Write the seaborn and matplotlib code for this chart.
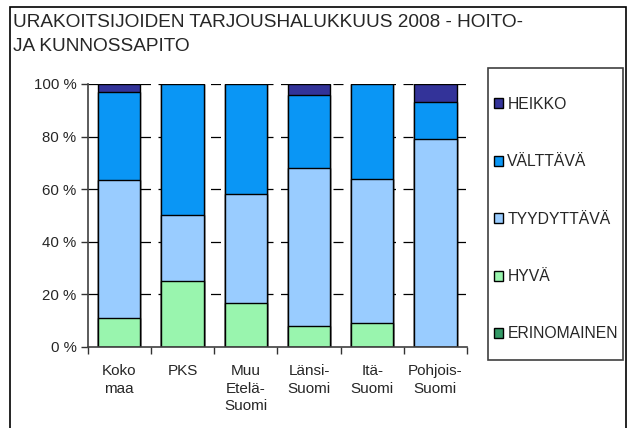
import numpy as np
import pandas as pd
import matplotlib
matplotlib.use("Agg")
import matplotlib.pyplot as plt
import seaborn as sns
from matplotlib.patches import Rectangle, Patch

sns.set_theme(style="white")
plt.rcParams['font.family'] = ['Liberation Sans', 'DejaVu Sans']

categories = ["Koko\nmaa", "PKS", "Muu\nEtelä-\nSuomi", "Länsi-\nSuomi", "Itä-\nSuomi", "Pohjois-\nSuomi"]
erinomainen = [0, 0, 0, 0, 0, 0]
hyva = [11, 25, 16.7, 8, 9, 0]
tyydyttava = [52.4, 25, 41.6, 60, 55, 79]
valttava = [33.7, 50, 41.7, 28, 36, 14]
heikko = [2.9, 0, 0, 4, 0, 7]

series_names = ["ERINOMAINEN", "HYVÄ", "TYYDYTTÄVÄ", "VÄLTTÄVÄ", "HEIKKO"]
series_values = [erinomainen, hyva, tyydyttava, valttava, heikko]
colors = ["#339966", "#99F5AE", "#99CCFF", "#0A96F5", "#333399"]

cum = np.zeros(len(categories))
cums = []
for v in series_values:
    cum = cum + np.array(v, dtype=float)
    cums.append(cum.copy())

W, H = 629, 428
fig = plt.figure(figsize=(W/100, H/100), dpi=100)
ax = fig.add_axes([87.7/W, 1 - 347/H, (467-87.7)/W, (347-84)/H])

# dashed grid
for yv in [20, 40, 60, 80, 100]:
    ax.axhline(yv, color="black", lw=0.9, ls=(0, (8, 6)), zorder=0)

# draw from top cumulative to bottom
for name, c, col in reversed(list(zip(series_names, cums, colors))):
    d = pd.DataFrame({"cat": categories, "val": c})
    sns.barplot(data=d, x="cat", y="val", color=col, width=0.67,
                edgecolor="black", linewidth=1.0, ax=ax, saturation=1, zorder=2)

ax.set_ylim(0, 100)
ax.set_xlim(-0.5, 5.5)
ax.set_yticks([0, 20, 40, 60, 80, 100])
ax.set_yticklabels([f"{t} %" for t in [0, 20, 40, 60, 80, 100]], fontsize=10.8)
ax.set_xticks(range(6))
ax.set_xticklabels(categories, fontsize=11, linespacing=1.35)
ax.set_xticks(np.arange(-0.5, 6.0, 1.0), minor=True)
ax.tick_params(axis="x", which="major", length=0, pad=12)
ax.tick_params(axis="x", which="minor", length=5, width=1, color="#333333", direction="out", bottom=True)
ax.tick_params(axis="y", which="major", length=5, width=1, color="#333333", direction="out", left=True, pad=3)
ax.set_xlabel("")
ax.set_ylabel("")
for s in ["top", "right"]:
    ax.spines[s].set_visible(False)
for s in ["left", "bottom"]:
    ax.spines[s].set_color("#404040")
    ax.spines[s].set_linewidth(1.2)
ax.set_facecolor("white")

# Title
fig.text(13/W, 1 - 14/H, "URAKOITSIJOIDEN TARJOUSHALUKKUUS 2008 - HOITO-\nJA KUNNOSSAPITO",
         ha="left", va="top", fontsize=13.7, linespacing=1.55)

# Figure border
fig.patches.append(Rectangle((10/W, -0.05), (626-10)/W, 1.05 - 7/H, transform=fig.transFigure,
                             fill=False, edgecolor="black", lw=1.2))

# Legend frame
fig.patches.append(Rectangle((488/W, 1 - 360/H), (623-488)/W, (360-68)/H, transform=fig.transFigure,
                             fill=False, edgecolor="#404040", lw=1.2, zorder=5))

# Legend
handles = [Patch(facecolor=col, edgecolor="black", lw=1.0, label=n)
           for n, col in reversed(list(zip(series_names, colors)))]
leg = fig.legend(handles=handles, loc="upper left", bbox_to_anchor=(494/W, 1 - 97/H),
                 frameon=False, fontsize=11.3,
                 handlelength=0.6, handleheight=0.6, handletextpad=0.25,
                 labelspacing=2.7, borderpad=0, borderaxespad=0)

fig.savefig("out.png", dpi=100)
